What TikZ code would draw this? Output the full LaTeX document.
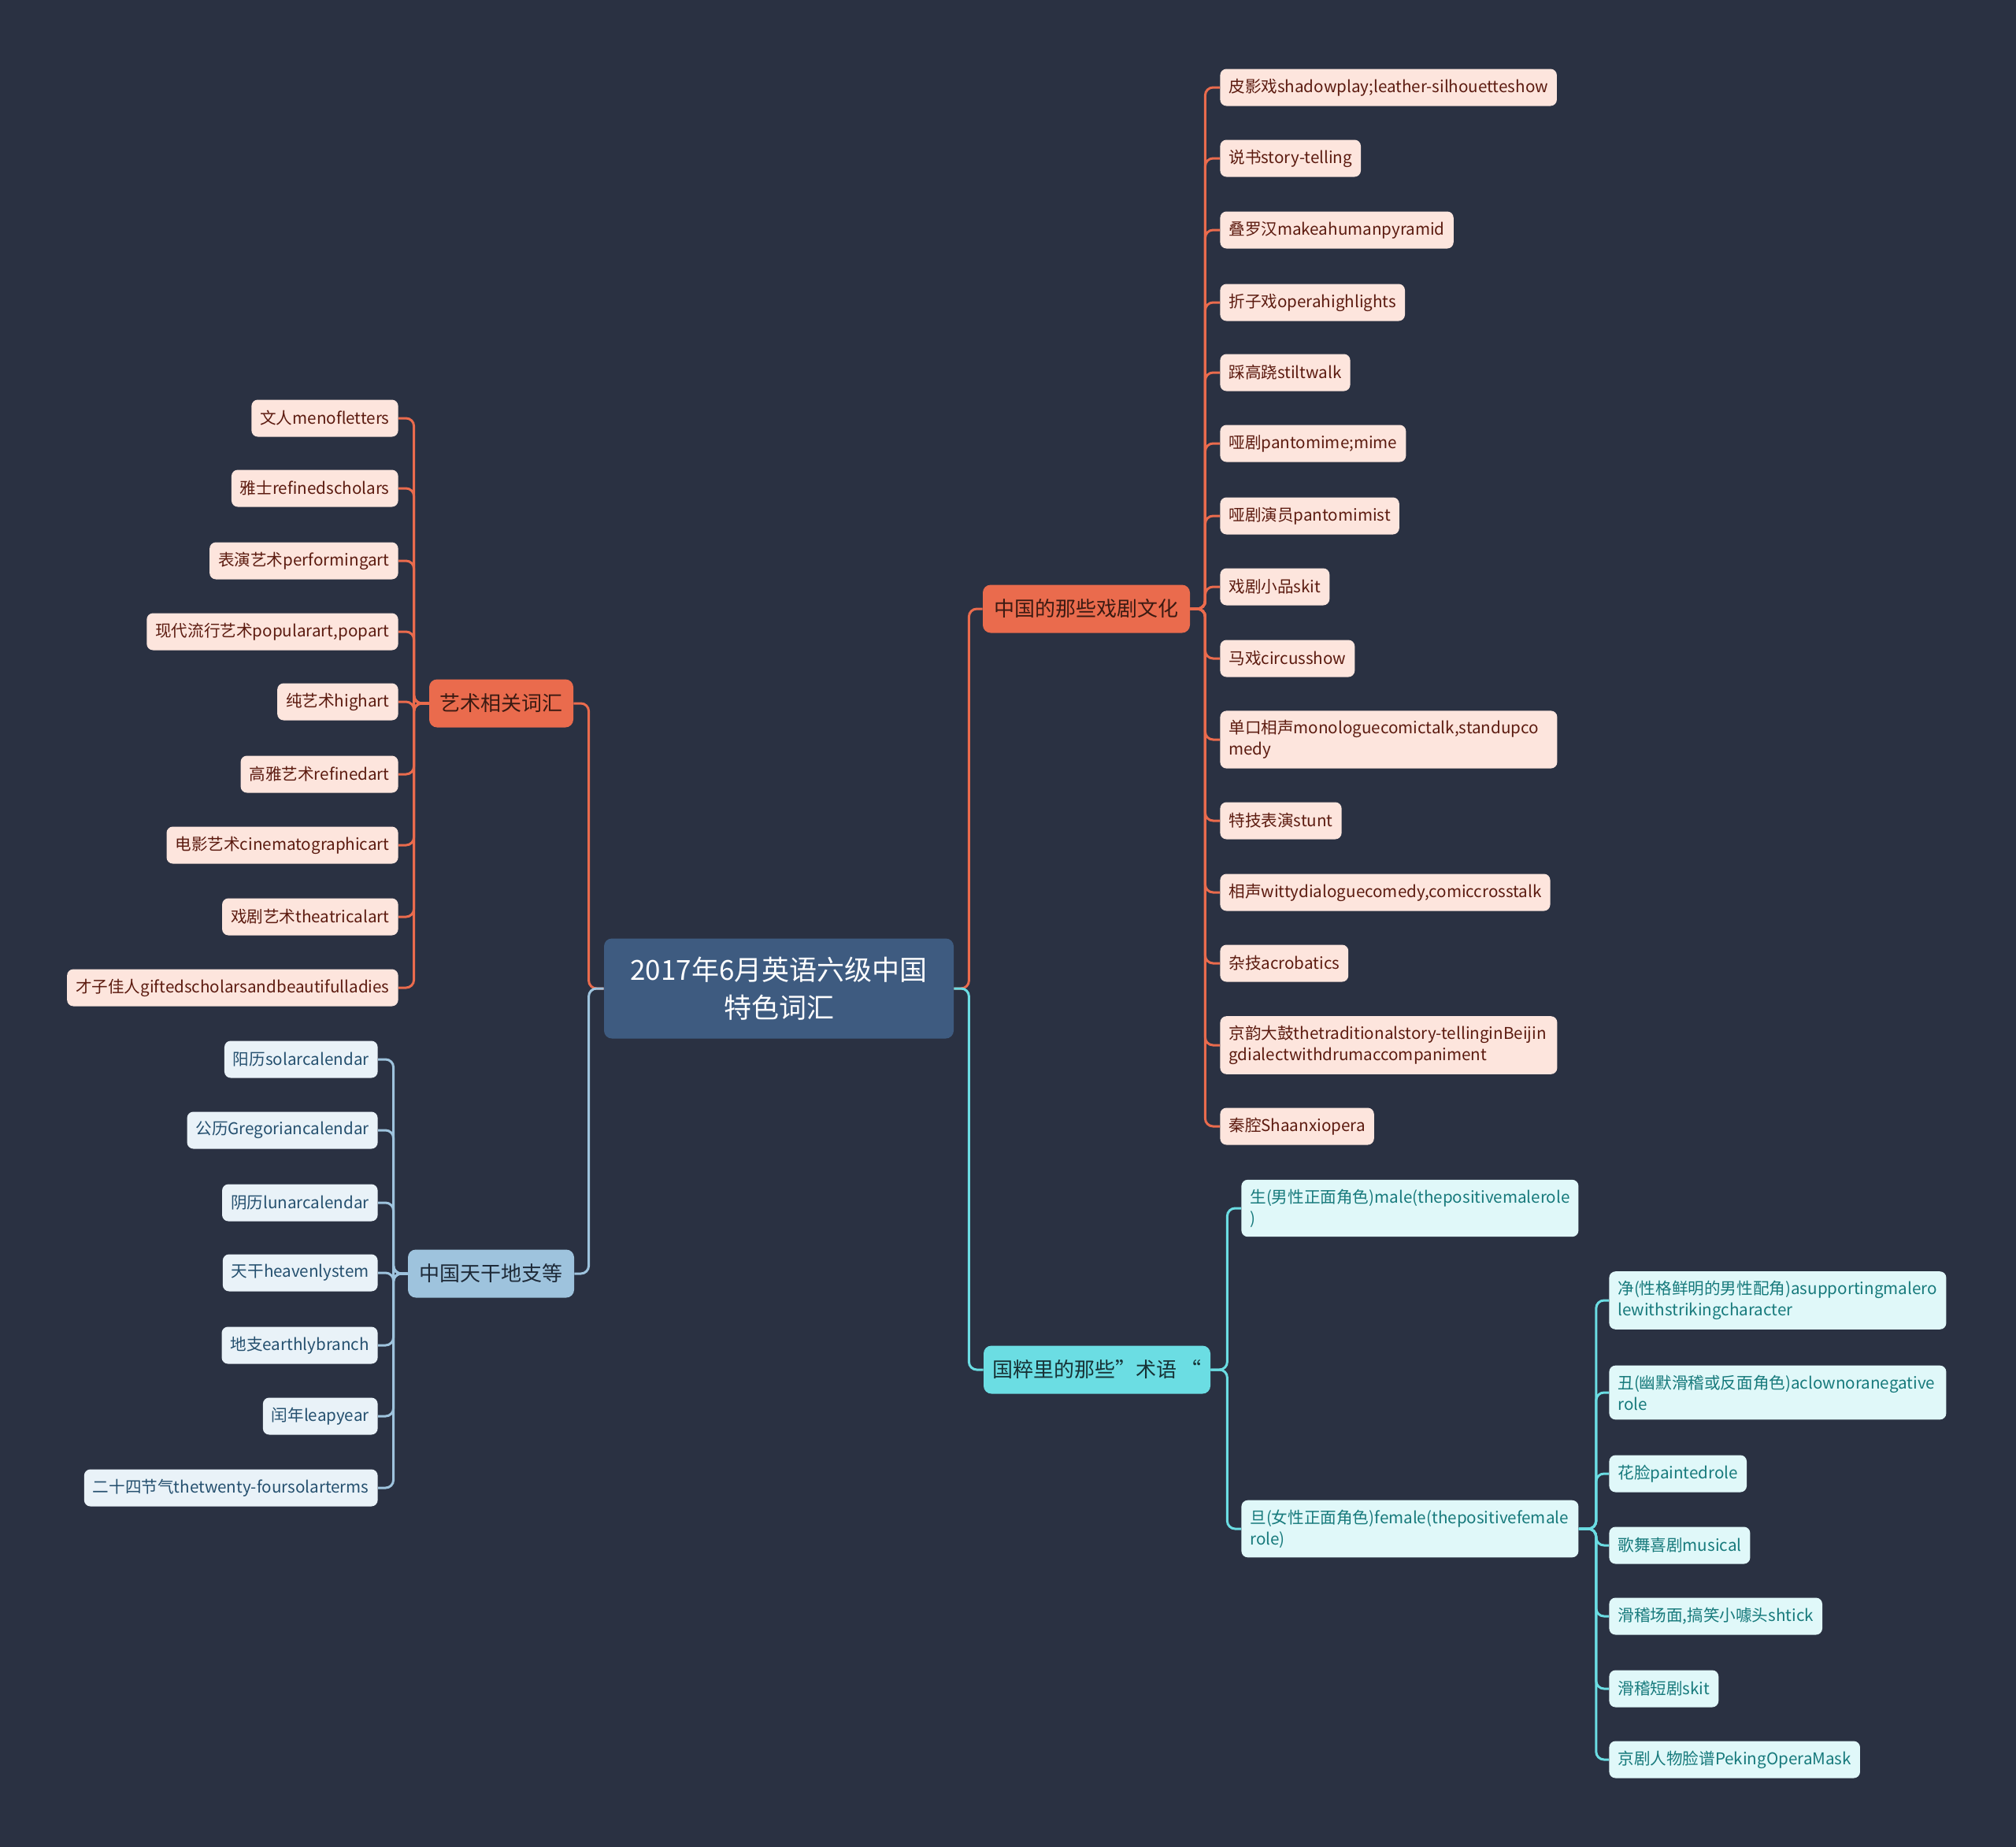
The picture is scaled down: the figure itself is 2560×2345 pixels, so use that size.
\documentclass[tikz,border=0pt]{standalone}
\usepackage{fontspec}
\newfontfamily\cjk{Noto Sans CJK SC}
\definecolor{bgc}{HTML}{2A3142}
\definecolor{rootc}{HTML}{3E5B80}
\definecolor{coral}{HTML}{EA6B4D}
\definecolor{coralleaf}{HTML}{FDE5DD}
\definecolor{coraltxt}{HTML}{5C1B10}
\definecolor{coralbtxt}{HTML}{3B1A12}
\definecolor{lblue}{HTML}{9EC3DD}
\definecolor{lblueleaf}{HTML}{E9F2F8}
\definecolor{lbluetxt}{HTML}{25506F}
\definecolor{lbluebtxt}{HTML}{1E2A38}
\definecolor{cyanc}{HTML}{6BDDE3}
\definecolor{cyanleaf}{HTML}{E0F8F9}
\definecolor{cyantxt}{HTML}{177A7C}
\definecolor{cyanbtxt}{HTML}{173236}
\begin{document}
\begin{tikzpicture}[x=0.5pt,y=-0.5pt,
  rootbox/.style={fill=rootc,text=white,font=\cjk\fontsize{17.5}{24}\selectfont,rounded corners=5pt,align=center,minimum width=222pt,minimum height=63.5pt,inner sep=0pt},
  branchbox/.style={font=\cjk\fontsize{13}{16}\selectfont,rounded corners=5pt,minimum height=30.5pt,inner sep=0pt},
  leafbox/.style={font=\cjk\fontsize{10.3}{13.5}\selectfont,rounded corners=4pt,inner xsep=5.5pt,inner ysep=6pt,minimum height=23.5pt,align=left},
  twoline/.style={text width=203pt},
  cleaf/.style={leafbox,fill=coralleaf,text=coraltxt},
  bleaf/.style={leafbox,fill=lblueleaf,text=lbluetxt},
  yleaf/.style={leafbox,fill=cyanleaf,text=cyantxt},
  cline/.style={draw=coral,line width=1.5pt,rounded corners=5pt},
  bline/.style={draw=lblue,line width=1.5pt,rounded corners=5pt},
  yline/.style={draw=cyanc,line width=1.5pt,rounded corners=5pt}]
\fill[bgc] (0,0) rectangle (2560,2345);
\useasboundingbox (0,0) rectangle (2560,2345);

% root
\node[rootbox] (root) at (989,1255) {2017年6月英语六级中国\\特色词汇};

% branches
\node[branchbox,fill=coral,text=coralbtxt,minimum width=131.5pt] (b1) at (1379.5,773) {中国的那些戏剧文化};
\node[branchbox,fill=coral,text=coralbtxt,minimum width=91.5pt] (b2) at (636.5,893) {艺术相关词汇};
\node[branchbox,fill=lblue,text=lbluebtxt,minimum width=105.5pt] (b3) at (623.5,1617) {中国天干地支等};
\node[branchbox,fill=cyanc,text=cyanbtxt,minimum width=144pt] (b4) at (1393,1739) {国粹里的那些”术语 “};

% root connectors
\draw[cline] (root.east) -- ++(19,0) |- (b1.west);
\draw[yline] (root.east) -- ++(19,0) |- (b4.west);
\draw[cline] (root.west) -- ++(-19,0) |- (b2.east);
\draw[bline] (root.west) -- ++(-19,0) |- (b3.east);

% branch 1 leaves
\node[cleaf,anchor=west] (a1) at (1549,111) {皮影戏shadowplay;leather-silhouetteshow};
\node[cleaf,anchor=west] (a2) at (1549,201) {说书story-telling};
\node[cleaf,anchor=west] (a3) at (1549,292) {叠罗汉makeahumanpyramid};
\node[cleaf,anchor=west] (a4) at (1549,384) {折子戏operahighlights};
\node[cleaf,anchor=west] (a5) at (1549,473) {踩高跷stiltwalk};
\node[cleaf,anchor=west] (a6) at (1549,563) {哑剧pantomime;mime};
\node[cleaf,anchor=west] (a7) at (1549,655) {哑剧演员pantomimist};
\node[cleaf,anchor=west] (a8) at (1549,745) {戏剧小品skit};
\node[cleaf,anchor=west] (a9) at (1549,836) {马戏circusshow};
\node[cleaf,twoline,anchor=west] (a10) at (1549,939) {单口相声monologuecomictalk,standupco\\medy};
\node[cleaf,anchor=west] (a11) at (1549,1042) {特技表演stunt};
\node[cleaf,anchor=west] (a12) at (1549,1133) {相声wittydialoguecomedy,comiccrosstalk};
\node[cleaf,anchor=west] (a13) at (1549,1223) {杂技acrobatics};
\node[cleaf,twoline,anchor=west] (a14) at (1549,1327) {京韵大鼓thetraditionalstory-tellinginBeijin\\gdialectwithdrumaccompaniment};
\node[cleaf,anchor=west] (a15) at (1549,1430) {秦腔Shaanxiopera};
\foreach \i in {1,...,15} {\draw[cline] (b1.east) -- ++(19,0) |- (a\i.west);}

% branch 2 leaves
\node[cleaf,anchor=east] (l1) at (506,531) {文人menofletters};
\node[cleaf,anchor=east] (l2) at (506,620) {雅士refinedscholars};
\node[cleaf,anchor=east] (l3) at (506,712) {表演艺术performingart};
\node[cleaf,anchor=east] (l4) at (506,802) {现代流行艺术popularart,popart};
\node[cleaf,anchor=east] (l5) at (506,891) {纯艺术highart};
\node[cleaf,anchor=east] (l6) at (506,983) {高雅艺术refinedart};
\node[cleaf,anchor=east] (l7) at (506,1073) {电影艺术cinematographicart};
\node[cleaf,anchor=east] (l8) at (506,1164) {戏剧艺术theatricalart};
\node[cleaf,anchor=east] (l9) at (506,1254) {才子佳人giftedscholarsandbeautifulladies};
\foreach \i in {1,...,9} {\draw[cline] (b2.west) -- ++(-19,0) |- (l\i.east);}

% branch 3 leaves
\node[bleaf,anchor=east] (t1) at (480,1345) {阳历solarcalendar};
\node[bleaf,anchor=east] (t2) at (480,1435) {公历Gregoriancalendar};
\node[bleaf,anchor=east] (t3) at (480,1527) {阴历lunarcalendar};
\node[bleaf,anchor=east] (t4) at (480,1616) {天干heavenlystem};
\node[bleaf,anchor=east] (t5) at (480,1708) {地支earthlybranch};
\node[bleaf,anchor=east] (t6) at (480,1798) {闰年leapyear};
\node[bleaf,anchor=east] (t7) at (480,1889) {二十四节气thetwenty-foursolarterms};
\foreach \i in {1,...,7} {\draw[bline] (b3.west) -- ++(-18,0) |- (t\i.east);}

% branch 4
\node[yleaf,twoline,anchor=west] (s1) at (1576,1534) {生(男性正面角色)male(thepositivemalerole\\)};
\node[yleaf,twoline,anchor=west] (s2) at (1576,1941) {旦(女性正面角色)female(thepositivefemale\\role)};
\foreach \i in {1,2} {\draw[yline] (b4.east) -- ++(21,0) |- (s\i.west);}

\node[yleaf,twoline,anchor=west] (d1) at (2043,1651) {净(性格鲜明的男性配角)asupportingmalero\\lewithstrikingcharacter};
\node[yleaf,twoline,anchor=west] (d2) at (2043,1768) {丑(幽默滑稽或反面角色)aclownoranegative\\role};
\node[yleaf,anchor=west] (d3) at (2043,1871) {花脸paintedrole};
\node[yleaf,anchor=west] (d4) at (2043,1962) {歌舞喜剧musical};
\node[yleaf,anchor=west] (d5) at (2043,2052) {滑稽场面,搞笑小噱头shtick};
\node[yleaf,anchor=west] (d6) at (2043,2144) {滑稽短剧skit};
\node[yleaf,anchor=west] (d7) at (2043,2234) {京剧人物脸谱PekingOperaMask};
\foreach \i in {1,...,7} {\draw[yline] (s2.east) -- ++(22,0) |- (d\i.west);}
\end{tikzpicture}
\end{document}
